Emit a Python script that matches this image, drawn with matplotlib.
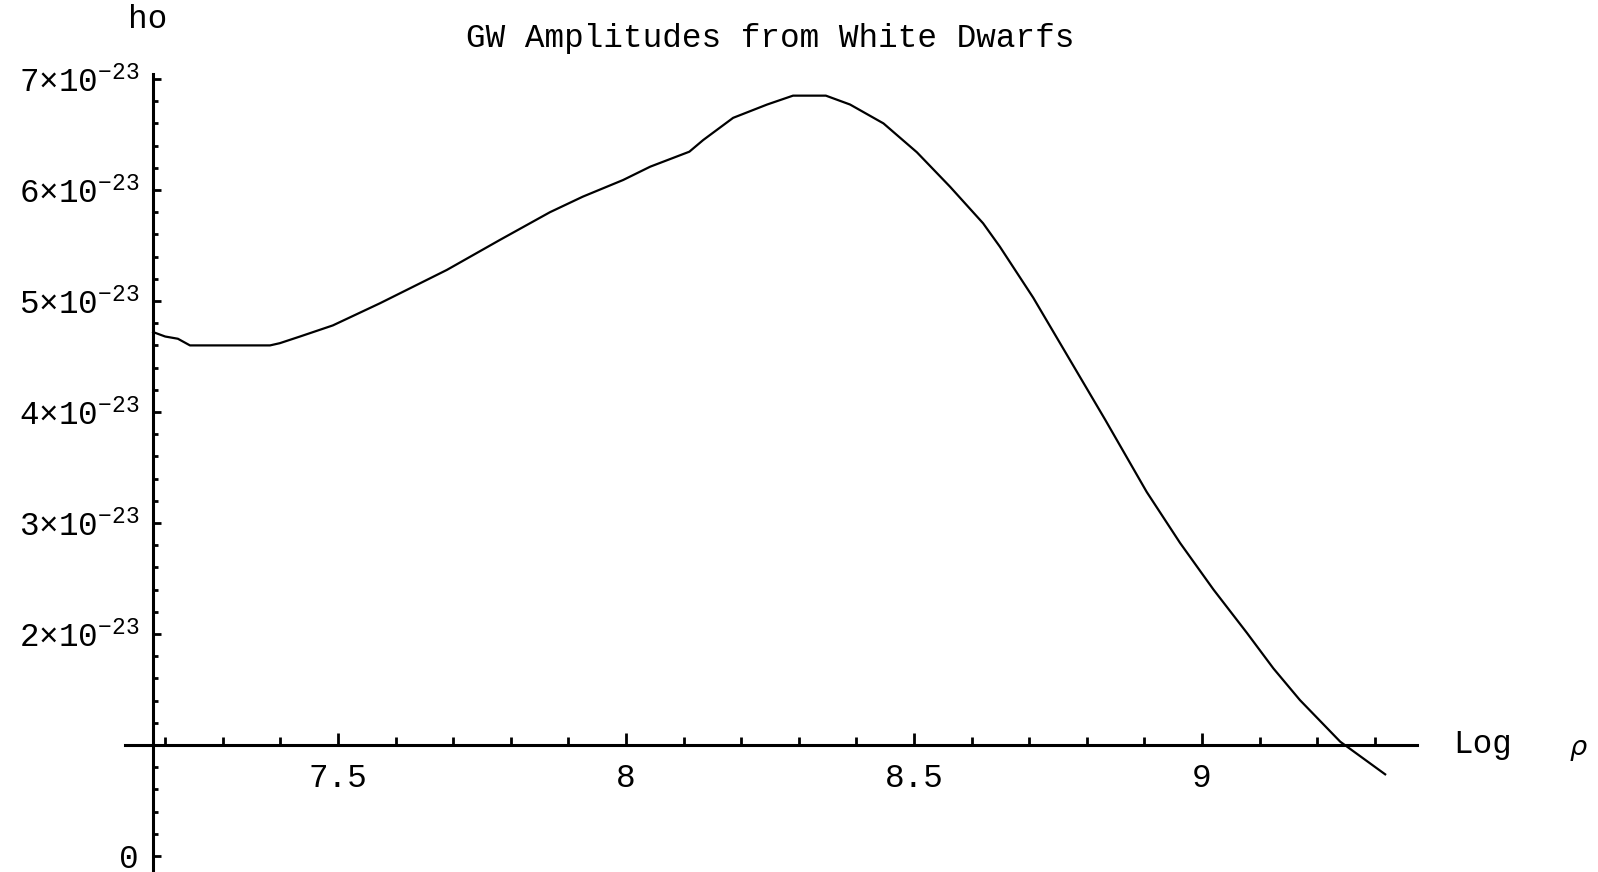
import matplotlib
matplotlib.use('Agg')
import matplotlib.pyplot as plt
from matplotlib.ticker import MultipleLocator, FuncFormatter

# log density vs. GW amplitude h0 (in units of 1e-23)
log_rho = [7.179, 7.20, 7.222, 7.243, 7.30, 7.382, 7.399, 7.434, 7.491, 7.573,
           7.689, 7.781, 7.868, 7.925, 7.995, 8.042, 8.11, 8.134, 8.186, 8.245,
           8.29, 8.347, 8.389, 8.447, 8.505, 8.5625, 8.62, 8.649, 8.707, 8.832,
           8.904, 8.962, 9.02, 9.078, 9.124, 9.17, 9.24, 9.318]
h0 = [4.72, 4.68, 4.66, 4.60, 4.60, 4.60, 4.62, 4.68, 4.78, 4.98,
      5.28, 5.55, 5.80, 5.94, 6.09, 6.21, 6.345, 6.45, 6.65, 6.77,
      6.85, 6.85, 6.77, 6.60, 6.34, 6.03, 5.70, 5.49, 5.03, 3.93,
      3.28, 2.82, 2.40, 2.01, 1.69, 1.405, 1.03, 0.736]

x_ticks = [7.5, 8, 8.5, 9]
x_labels = ['7.5', '8', '8.5', '9']

plt.rcParams['font.family'] = ['Liberation Mono', 'DejaVu Sans Mono']
plt.rcParams['mathtext.fontset'] = 'custom'
plt.rcParams['mathtext.rm'] = 'Liberation Mono'
plt.rcParams['mathtext.it'] = 'Liberation Mono:italic'
fs = 23.5

W, H = 1598, 872
fig = plt.figure(figsize=(W / 100, H / 100), dpi=100)
ax = fig.add_axes([125 / W, 0, (1417 - 125) / W, (872 - 74) / H])
ax.plot(log_rho, h0, color='black', lw=1.6)
ax.set_xlim(7.1302, 9.3733)
ax.set_ylim(-0.144, 7.045)

ax.spines['top'].set_visible(False)
ax.spines['right'].set_visible(False)
ax.spines['left'].set_position(('data', 7.1788))
ax.spines['bottom'].set_position(('data', 1.0))
ax.spines['left'].set_linewidth(2.2)
ax.spines['bottom'].set_linewidth(2.2)

ax.set_xticks(x_ticks)
ax.set_xticklabels(x_labels)
ax.xaxis.set_minor_locator(MultipleLocator(0.1))
ax.yaxis.set_major_locator(MultipleLocator(1))
ax.yaxis.set_minor_locator(MultipleLocator(0.2))


def ylab(v, pos):
    n = int(round(v))
    if n == 0:
        return '0'
    if n == 1:
        return ''
    return r'$\mathregular{%d{\times}10^{-23}}$' % n


ax.yaxis.set_major_formatter(FuncFormatter(ylab))
ax.tick_params(axis='x', which='major', direction='in', length=8.5, width=2,
               pad=13, labelsize=fs)
ax.tick_params(axis='x', which='minor', direction='in', length=5.5, width=2)
ax.tick_params(axis='y', which='major', direction='in', length=6, width=2,
               pad=10, labelsize=fs)
ax.tick_params(axis='y', which='minor', direction='in', length=3.5, width=2)

fig.text(770 / W, 1 - 38 / H, 'GW Amplitudes from White Dwarfs', fontsize=fs,
         ha='center', va='center')
fig.text(148 / W, 1 - 20 / H, 'ho', fontsize=fs, ha='center', va='center')
fig.text(1453 / W, 1 - 745 / H, 'Log', fontsize=fs, ha='left', va='center')
fig.text(1578 / W, 1 - 748 / H, 'ρ', fontsize=fs - 4, style='italic',
         ha='center', va='center', family=['DejaVu Sans'])

fig.savefig('out.png', dpi=100, facecolor='white')
